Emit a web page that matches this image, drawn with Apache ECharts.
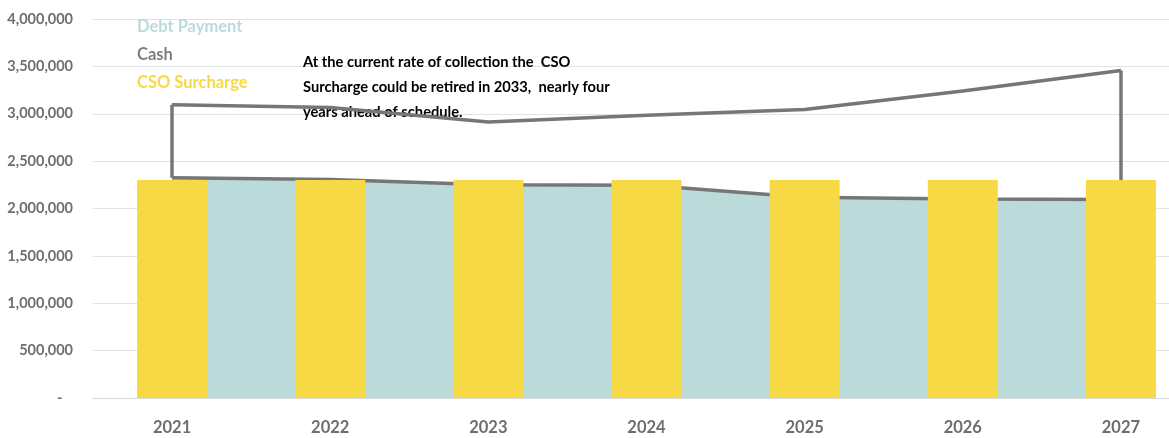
<!DOCTYPE html>
<html>
<head>
<meta charset="utf-8">
<script src="https://cdn.jsdelivr.net/npm/echarts@6/dist/echarts.min.js"></script>
<style>
html,body{margin:0;padding:0;background:#fff;overflow:hidden;}
#chart{width:1200px;height:438px;}
</style>
</head>
<body>
<div id="chart"></div>
<script>
const years = ['2021', '2022', '2023', '2024', '2025', '2026', '2027'];
const debtPayment = [2325000, 2305000, 2250000, 2245000, 2120000, 2100000, 2095000];
const cash = [770000, 762000, 663000, 738000, 925000, 1140000, 1362000];
const csoSurcharge = [2300000, 2300000, 2300000, 2300000, 2300000, 2300000, 2300000];
const yMin = 0, yMax = 4000000, yStep = 500000;
const note = ['At the current rate of collection the  CSO', 'Surcharge could be retired in 2033,  nearly four', 'years ahead of schedule.'];

const FONT = 'Lato, "Open Sans", sans-serif';
const GREY = '#767676';
const TEAL = '#BBDBDA';
const YELLOW = '#F7D945';

const last = years.length - 1;
const chart = echarts.init(document.getElementById('chart'));
chart.setOption({
  animation: false,
  backgroundColor: '#fff',
  grid: { left: 93, top: 19, bottom: 40, right: 0, containLabel: false },
  legend: {
    orient: 'vertical', left: 127, top: 12,
    itemWidth: 0, itemHeight: 14, itemGap: 8,
    selectedMode: false,
    textStyle: { fontFamily: FONT, fontSize: 16.5, fontWeight: 'bold', lineHeight: 20 },
    data: [
      { name: 'Debt Payment', icon: 'none', textStyle: { color: TEAL } },
      { name: 'Cash', icon: 'none', textStyle: { color: '#7F7F7F' } },
      { name: 'CSO Surcharge', icon: 'none', textStyle: { color: YELLOW } }
    ]
  },
  xAxis: {
    type: 'category', data: years, boundaryGap: true,
    axisLine: { lineStyle: { color: '#D9D9D9', width: 1 } },
    axisTick: { show: false },
    axisLabel: { color: '#6E6E6E', fontFamily: FONT, fontWeight: 'bold', fontSize: 16.5, margin: 21 }
  },
  yAxis: {
    type: 'value', min: yMin, max: yMax, interval: yStep,
    axisLine: { show: false }, axisTick: { show: false },
    splitLine: { lineStyle: { color: '#E3E3E3', width: 1 } },
    axisLabel: {
      color: '#6E6E6E', fontFamily: FONT, fontWeight: 'bold', fontSize: 14.5, margin: 20,
      formatter: v => v === 0 ? '-   ' : v.toLocaleString('en-US')
    }
  },
  graphic: [{
    type: 'text', left: 303, top: 50, z: 1,
    style: { text: note.join('\n'), fill: '#000', font: 'bold 14.7px ' + FONT, lineHeight: 25 }
  }],
  series: [
    {
      name: 'Debt Payment', type: 'line', stack: 'total', data: debtPayment,
      symbol: 'none', z: 2,
      itemStyle: { color: TEAL },
      lineStyle: { color: GREY, width: 3.5 },
      areaStyle: { color: TEAL, opacity: 1 }
    },
    {
      name: 'Cash', type: 'line', stack: 'total', data: cash,
      symbol: 'none', z: 3,
      itemStyle: { color: GREY },
      lineStyle: { color: GREY, width: 3.5 },
      markLine: {
        silent: true, symbol: 'none', label: { show: false },
        lineStyle: { color: GREY, width: 3.5, type: 'solid' },
        data: [
          [{ coord: [years[0], debtPayment[0]] }, { coord: [years[0], debtPayment[0] + cash[0]] }],
          [{ coord: [years[last], debtPayment[last]] }, { coord: [years[last], debtPayment[last] + cash[last]] }]
        ]
      }
    },
    {
      name: 'CSO Surcharge', type: 'bar', data: csoSurcharge,
      barWidth: 70, z: 5,
      itemStyle: { color: YELLOW }
    }
  ]
});
</script>
</body>
</html>
